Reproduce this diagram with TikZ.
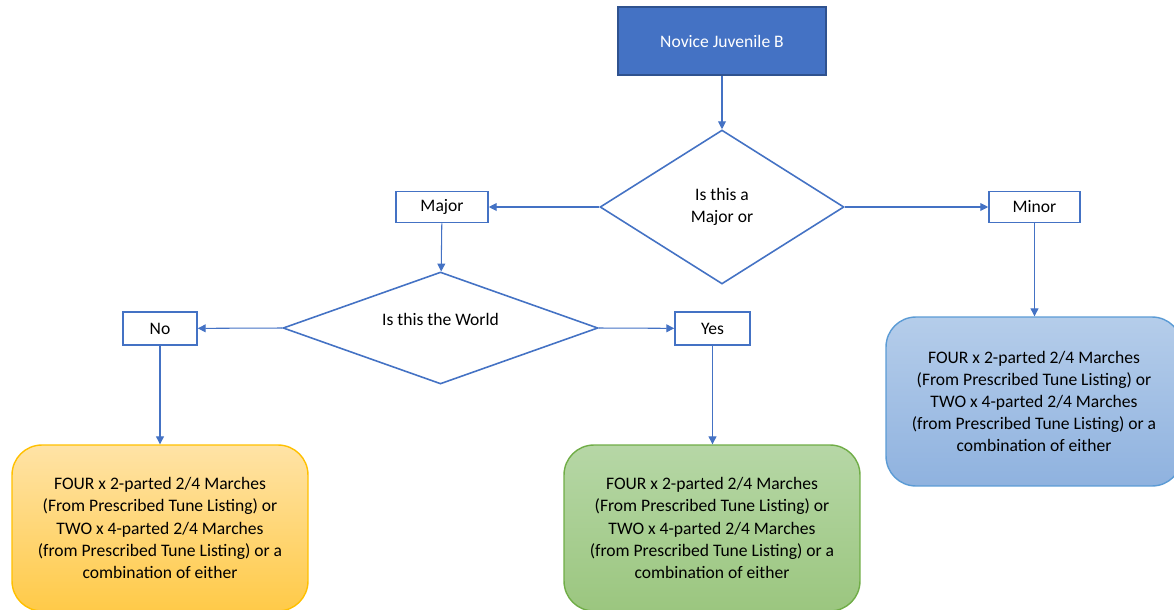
\documentclass[tikz,border=0pt]{standalone}
\usepackage{fontspec}
\setmainfont{Carlito}
\usetikzlibrary{shapes.geometric,arrows.meta,positioning}
\definecolor{accent}{HTML}{4472C4}
\definecolor{accentdark}{HTML}{2F528F}
\definecolor{goldline}{HTML}{FFC000}
\definecolor{goldtop}{HTML}{FFE3A6}
\definecolor{goldbottom}{HTML}{FFCA48}
\definecolor{greenline}{HTML}{70AD47}
\definecolor{greentop}{HTML}{B6D7A6}
\definecolor{greenbottom}{HTML}{9BC67F}
\definecolor{blueline}{HTML}{5B9BD5}
\definecolor{bluetop}{HTML}{B5CDEA}
\definecolor{bluebottom}{HTML}{8FB2DF}

\begin{document}
\begin{tikzpicture}[x=0.02cm,y=-0.02cm,font=\fontsize{10}{12.6}\selectfont,
    flow/.style={draw=accent,line width=0.6pt,-{Triangle[length=4.5pt,width=4.5pt]}},
    choice/.style={draw=accent,line width=0.9pt,fill=white,minimum height=0.62cm,inner sep=0pt},
    query/.style={diamond,draw=accent,line width=0.9pt,fill=white,inner sep=0pt,align=center},
    result/.style={rounded corners=17pt,line width=0.8pt,minimum width=5.92cm,inner sep=0pt,align=center}]
    \useasboundingbox (0,0) rectangle (1174,609);
    \clip (0,0) rectangle (1174,609);
    \node[draw=accentdark,line width=0.9pt,fill=accent,text=white,minimum width=4.16cm,minimum height=1.36cm] (start) at (722,41) {Novice Juvenile B};
    \node[query,minimum width=4.88cm,minimum height=3.08cm] (scale) at (722,207) {Is this a\\Major or};
    \node[choice,minimum width=1.84cm] (major) at (442,207) {Major};
    \node[choice,minimum width=1.82cm] (minor) at (1034.5,207) {Minor};
    \node[query,minimum width=6.3cm,minimum height=2.24cm] (world) at (440.5,328) {};
    \node (worldtext) at (440.5,319) {Is this the World};
    \node[choice,minimum width=1.48cm,minimum height=0.66cm] (no) at (160,328.5) {No};
    \node[choice,minimum width=1.5cm,minimum height=0.66cm] (yes) at (712.5,328.5) {Yes};
    \node[result,draw=goldline,top color=goldtop,bottom color=goldbottom,minimum height=3.32cm] (nores) at (160,528) {FOUR x 2-parted 2/4 Marches\\(From Prescribed Tune Listing) or\\TWO x 4-parted 2/4 Marches\\(from Prescribed Tune Listing) or a\\combination of either};
    \node[result,draw=greenline,top color=greentop,bottom color=greenbottom,minimum height=3.32cm] (yesres) at (712,528) {FOUR x 2-parted 2/4 Marches\\(From Prescribed Tune Listing) or\\TWO x 4-parted 2/4 Marches\\(from Prescribed Tune Listing) or a\\combination of either};
    \node[result,draw=blueline,top color=bluetop,bottom color=bluebottom,minimum height=3.38cm] (minorres) at (1034,401.5) {FOUR x 2-parted 2/4 Marches\\(From Prescribed Tune Listing) or\\TWO x 4-parted 2/4 Marches\\(from Prescribed Tune Listing) or a\\combination of either};
    \draw[flow] (start) -- (scale);
    \draw[flow] (scale.west) -- (major);
    \draw[flow] (scale.east) -- (minor);
    \draw[flow] (major) -- (world);
    \draw[flow] (world.west) -- (no);
    \draw[flow] (world.east) -- (yes);
    \draw[flow] (no) -- (no |- nores.north);
    \draw[flow] (yes) -- (yes |- yesres.north);
    \draw[flow] (minor) -- (minor |- minorres.north);
\end{tikzpicture}
\end{document}
